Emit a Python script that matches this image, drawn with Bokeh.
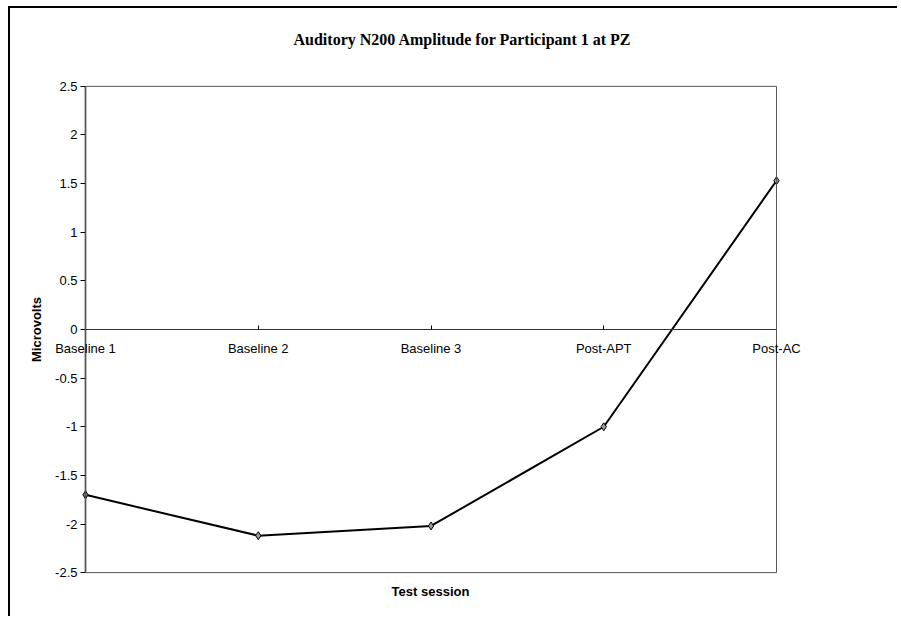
from bokeh.plotting import figure
from bokeh.models import (Range1d, LinearAxis, FixedTicker, Title,
                          ColumnDataSource, LabelSet, BoxAnnotation)
from bokeh.core.properties import value
from bokeh.embed import file_html
from bokeh.resources import INLINE

# ---- data ----
sessions = ["Baseline 1", "Baseline 2", "Baseline 3", "Post-APT", "Post-AC"]
amplitude = [-1.70, -2.12, -2.02, -1.00, 1.53]
y_ticks = [-2.5, -2, -1.5, -1, -0.5, 0, 0.5, 1, 1.5, 2, 2.5]
y_min, y_max = -2.5, 2.5
title_text = "Auditory N200 Amplitude for Participant 1 at PZ"
x_label = "Test session"
y_label = "Microvolts"

pos = list(range(len(sessions)))
src = ColumnDataSource(dict(x=pos, y=amplitude))
lab_src = ColumnDataSource(dict(x=pos, y=[0] * len(sessions), text=sessions))

# layout (pixels): plot box spans 691 px wide for the category span;
# the drawing frame is wider so labels/axis outside the box are not clipped
n = len(sessions) - 1
px_per_x = 691.0 / n
x_lo = -65.0 / px_per_x
x_hi = n + 64.0 / px_per_x
y_pad = 0.05

p = figure(width=889, height=610, output_backend="svg", toolbar_location=None,
           x_range=Range1d(x_lo, x_hi),
           y_range=Range1d(y_min - y_pad, y_max + y_pad),
           x_axis_location=None, y_axis_location=None,
           min_border_left=10, min_border_top=73,
           min_border_right=59, min_border_bottom=41)
p.styles = {"border-left": "2px solid black", "border-top": "2px solid black",
            "margin-left": "8px", "margin-top": "6px"}
p.background_fill_color = "white"
p.border_fill_color = "white"
p.outline_line_color = None
p.xgrid.visible = False
p.ygrid.visible = False

# plot-area box
p.add_layout(BoxAnnotation(left=0, right=n, bottom=y_min, top=y_max,
                           fill_color=None, fill_alpha=0,
                           line_color="#555555", line_alpha=1.0,
                           line_width=1))

# title
p.title = Title(text=title_text, align="left", offset=273,
                text_font="Liberation Serif", text_font_size="16px",
                text_font_style="bold", text_color="black", standoff=0)
p.add_layout(Title(text=" ", text_font_size="29px", standoff=0), "above")

# y axis at x = 0
ya = LinearAxis(fixed_location=0, ticker=FixedTicker(ticks=y_ticks),
                bounds=(y_min, y_max))
ya.major_label_overrides = {t: ("%g" % t) for t in y_ticks}
ya.major_tick_out = 5
ya.major_tick_in = 0
ya.minor_tick_line_color = None
ya.axis_line_color = "black"
ya.axis_line_width = 1.5
ya.major_label_standoff = 3
ya.major_label_text_font = "Liberation Sans"
ya.major_label_text_font_size = "13px"
ya.major_label_text_color = "black"
ya.axis_label = y_label
ya.axis_label_text_font = "Liberation Sans"
ya.axis_label_text_font_size = "13px"
ya.axis_label_text_font_style = "bold"
ya.axis_label_text_color = "black"
ya.axis_label_standoff = 8
p.add_layout(ya, "left")

# category axis line + ticks at zero
xa = LinearAxis(fixed_location=0, ticker=FixedTicker(ticks=pos), bounds=(0, n))
xa.major_tick_in = 4
xa.major_tick_out = 0
xa.minor_tick_line_color = None
xa.axis_line_color = "#333333"
xa.axis_line_width = 1
xa.major_label_text_color = None
xa.major_label_text_font_size = "1px"
p.add_layout(xa, "below")

# category labels under the zero line
labels = LabelSet(x="x", y="y", text="text", source=lab_src,
                  text_align="center", text_baseline="middle", y_offset=-19,
                  text_font=value("Liberation Sans"), text_font_size="13px",
                  text_color="black")
p.add_layout(labels)

p.add_layout(Title(text=x_label, align="center", text_font="Liberation Sans",
                   text_font_size="13px", text_font_style="bold",
                   text_color="black", standoff=8), "below")

p.line("x", "y", source=src, line_color="black", line_width=2)
p.scatter("x", "y", source=src, marker="diamond", size=8,
          fill_color="#999999", line_color="black", line_width=1)

open("out.html", "w").write(file_html(p, INLINE))
